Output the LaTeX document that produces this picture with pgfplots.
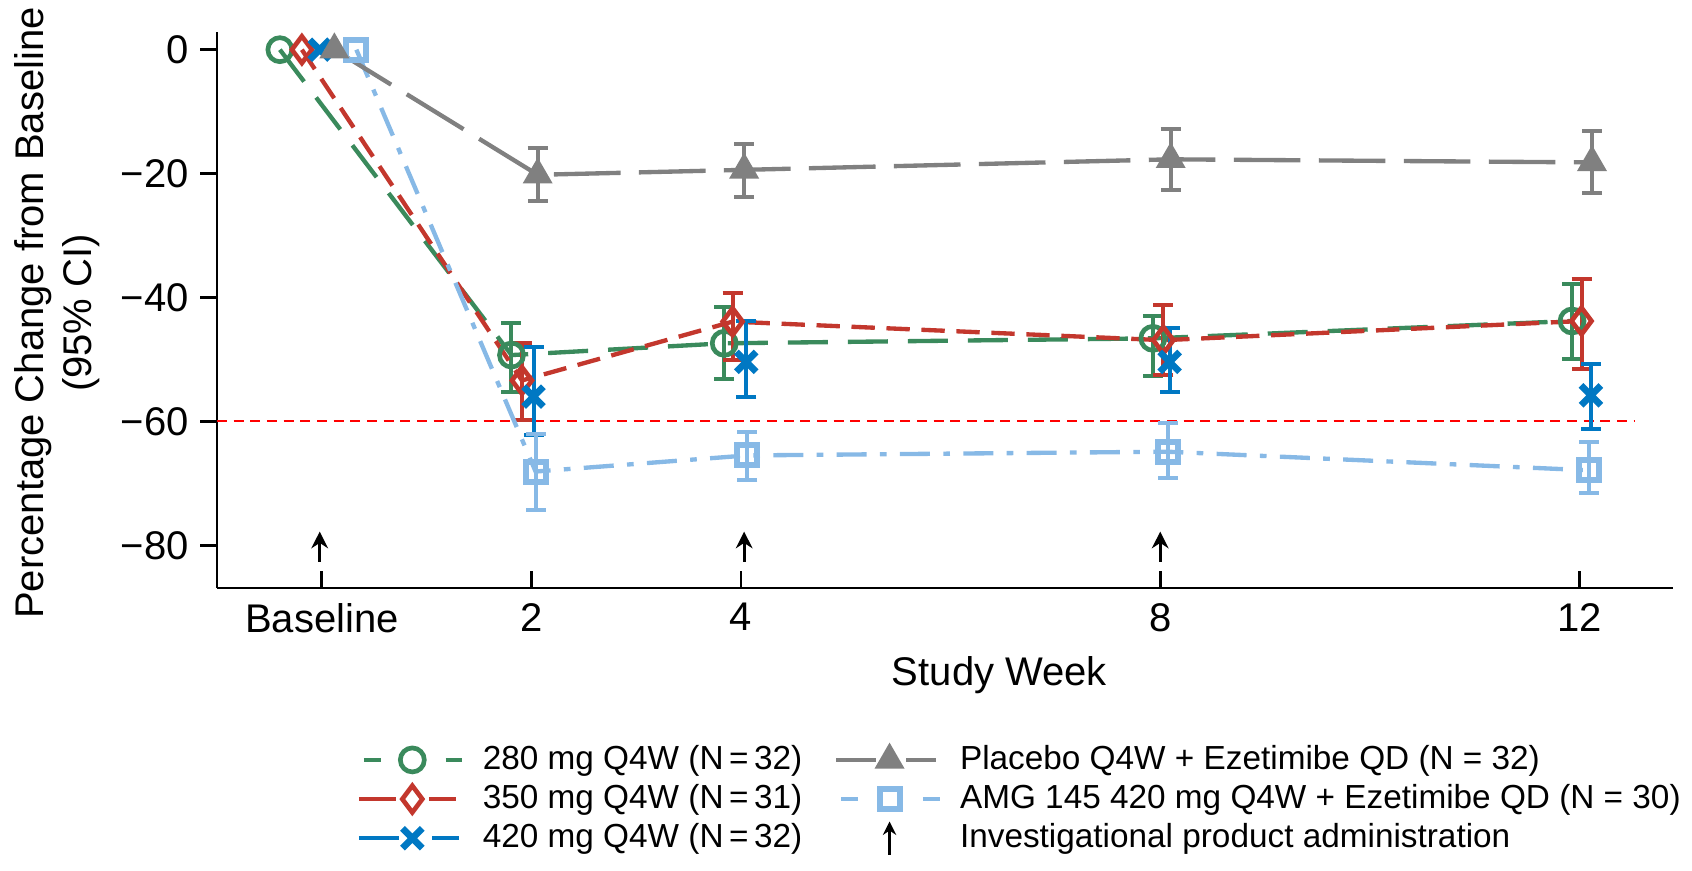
\documentclass[border=0pt]{standalone}
\usepackage{fontspec}
\setmainfont{Liberation Sans}
\usepackage{pgfplots}
\pgfplotsset{compat=1.18}
\usetikzlibrary{arrows.meta}
\definecolor{cgreen}{RGB}{58,138,92}
\definecolor{cred}{RGB}{195,55,45}
\definecolor{cblue}{RGB}{0,120,195}
\definecolor{cgray}{RGB}{128,128,128}
\definecolor{clblue}{RGB}{135,185,230}
\pgfplotsset{
  errs/.style={draw=none, mark=none, forget plot,
    error bars/.cd, y dir=both, y explicit,
    error bar style={draw=#1, line width=1.2pt, solid},
    error mark options={rotate=90, draw=#1, mark size=3pt, line width=1.2pt, solid}},
  sgreen/.style={cgreen, line width=1.3pt, dash pattern=on 12pt off 6pt, mark=o, mark size=3.6pt, mark options={solid, line width=1.4pt}},
  sred/.style={cred, line width=1.3pt, dash pattern=on 7pt off 3.5pt, mark=diamond, mark size=4pt, mark options={solid, line width=1.4pt}},
  sblue/.style={cblue, line width=1.3pt, mark=x, mark size=4.2pt, mark options={solid, line width=2pt}},
  sgray/.style={cgray, line width=1.3pt, dash pattern=on 20pt off 5.5pt, mark=triangle*, mark size=4pt, mark options={solid, line width=1.2pt, fill=cgray}},
  slblue/.style={clblue, line width=1.3pt, dash pattern=on 9pt off 4pt on 2pt off 4pt, mark=square, mark size=3pt, mark options={solid, line width=1.8pt}},
}
\begin{document}
\begin{tikzpicture}
\begin{axis}[
  scale only axis,
  width=436.7pt, height=166.7pt,
  xmin=-1.0, xmax=12.89,
  ymin=-86.9, ymax=2.8,
  axis x line*=bottom, axis y line*=left,
  axis line style={line width=0.8pt, black},
  xtick={0,2,4,8,12},
  xticklabels={Baseline,2,4,8,12},
  ytick={-80,-60,-40,-20,0},
  yticklabels={−80,−60,−40,−20,0},
  tick align=outside,
  major tick length=5pt,
  tick style={line width=0.8pt, black},
  xtick style={yshift=5pt},
  ticklabel style={font=\fontsize{12}{14.4}\selectfont},
  xticklabel style={yshift=4pt},
  xlabel={Study Week},
  ylabel={Percentage Change from Baseline\\(95\% CI)},
  label style={font=\fontsize{12}{14.4}\selectfont},
  xlabel style={at={(axis description cs:0.5375,-0.157)}, anchor=center},
  ylabel style={at={(axis description cs:-0.11,0.495)}, anchor=center, align=center},
  legend columns=2,
  legend style={at={(axis description cs:0.0956,-0.27)}, anchor=north west, draw=none, fill=none,
    font=\fontsize{10}{12}\selectfont, inner sep=0pt,
    /tikz/every odd column/.append style={column sep=2.5pt},
    /tikz/every even column/.append style={column sep=7.5pt}, row sep=-1pt},
  legend cell align=left,
  legend image code/.code={\draw[mark repeat=2,mark phase=2] plot coordinates {(0pt,0pt) (16pt,0pt) (32pt,0pt)};},
  clip=false,
]
% reference line
\addplot[red, line width=0.6pt, dash pattern=on 3pt off 2pt, forget plot] coordinates {(-1.0,-60) (12.52,-60)};

% 280 mg
\addplot[errs=cgreen] coordinates {(1.81,-49.3) += (0,5.2) -= (0,5.9) (3.84,-47.4) += (0,5.9) -= (0,5.7) (7.93,-46.6) += (0,3.6) -= (0,6.1) (11.93,-43.8) += (0,6.0) -= (0,6.2)};
\addplot[sgreen, forget plot] coordinates {(-0.4,0) (1.81,-49.3) (3.84,-47.4) (7.93,-46.6) (11.93,-43.8)};

% 350 mg
\addplot[errs=cred] coordinates {(1.91,-53.4) += (0,6.1) -= (0,6.4) (3.92,-43.9) += (0,4.7) -= (0,6.2) (8.03,-46.9) += (0,5.7) -= (0,5.6) (12.02,-43.8) += (0,6.7) -= (0,7.8)};
\addplot[sred, forget plot] coordinates {(-0.19,0) (1.91,-53.4) (3.92,-43.9) (8.03,-46.9) (12.02,-43.8)};

% 420 mg
\addplot[errs=cblue] coordinates {(2.02,-56.0) += (0,8.0) -= (0,6.2) (4.05,-50.4) += (0,6.6) -= (0,5.7) (8.09,-50.4) += (0,5.4) -= (0,4.8) (12.11,-55.8) += (0,5.0) -= (0,5.5)};
\addplot[sblue, only marks, forget plot] coordinates {(-0.02,0) (2.02,-56.0) (4.05,-50.4) (8.09,-50.4) (12.11,-55.8)};

% AMG 145 + Ezetimibe
\addplot[errs=clblue] coordinates {(2.04,-68.1) += (0,6.1) -= (0,6.2) (4.06,-65.5) += (0,3.8) -= (0,4.0) (8.07,-64.9) += (0,4.6) -= (0,4.3) (12.09,-67.9) += (0,4.6) -= (0,3.7)};
\addplot[slblue, forget plot] coordinates {(0.33,0) (2.04,-68.1) (4.06,-65.5) (8.07,-64.9) (12.09,-67.9)};

% Placebo + Ezetimibe
\addplot[errs=cgray] coordinates {(2.06,-20.2) += (0,4.3) -= (0,4.2) (4.03,-19.4) += (0,4.2) -= (0,4.4) (8.1,-17.7) += (0,4.9) -= (0,4.9) (12.12,-18.2) += (0,5.1) -= (0,5.0)};
\addplot[sgray, forget plot] coordinates {(0.12,0) (2.06,-20.2) (4.03,-19.4) (8.1,-17.7) (12.12,-18.2)};

% administration arrows
\draw[-{Stealth[length=5pt,width=5pt]}, line width=0.9pt] (axis cs:-0.02,-82.7) -- (axis cs:-0.02,-77.8);
\draw[-{Stealth[length=5pt,width=5pt]}, line width=0.9pt] (axis cs:4.03,-82.7) -- (axis cs:4.03,-77.8);
\draw[-{Stealth[length=5pt,width=5pt]}, line width=0.9pt] (axis cs:8.0,-82.7) -- (axis cs:8.0,-77.8);

% legend
\addlegendimage{sgreen, dash pattern=on 5pt off 19.5pt, dash phase=23pt}
\addlegendentry{280 mg Q4W (N\,=\,32)}
\addlegendimage{sgray, dash pattern=on 12pt off 9pt on 9pt off 10pt}
\addlegendentry{Placebo Q4W + Ezetimibe QD (N = 32)}
\addlegendimage{sred, dash pattern=on 11pt off 10pt on 8pt off 10pt}
\addlegendentry{350 mg Q4W (N\,=\,31)}
\addlegendimage{slblue, dash pattern=on 5pt off 19.5pt, dash phase=23pt}
\addlegendentry{AMG 145 420 mg Q4W + Ezetimibe QD (N = 30)}
\addlegendimage{sblue, dash pattern=on 12pt off 10pt on 8pt off 10pt}
\addlegendentry{420 mg Q4W (N\,=\,32)}
\addlegendimage{legend image code/.code={\draw[-{Stealth[length=4pt,width=4pt]}, black, line width=0.8pt] (16pt,-5pt) -- (16pt,5pt);}}
\addlegendentry{Investigational product administration}
\end{axis}
\pgfresetboundingbox
\path[use as bounding box] (-65.1pt,-84.9pt) rectangle (442.5pt,176.4pt);
\end{tikzpicture}
\end{document}
